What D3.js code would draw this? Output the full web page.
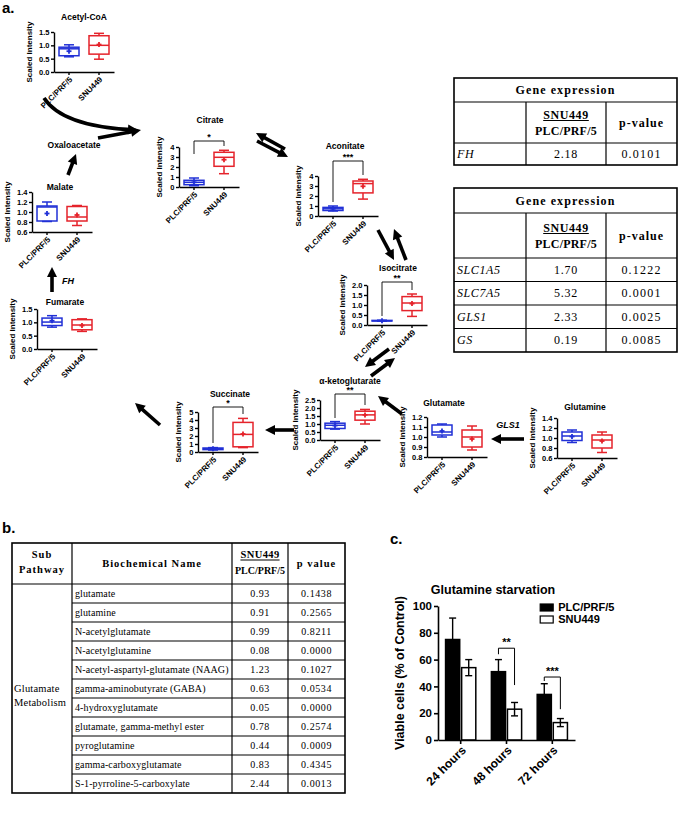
<!DOCTYPE html>
<html><head><meta charset="utf-8">
<script src="https://cdn.jsdelivr.net/npm/d3@7"></script>
<style>
body{margin:0;background:#fff;}
svg{display:block;background:#fff;}
</style></head><body>
<svg id="fig" width="685" height="816"></svg>
<script>
// ---------------- DATA ----------------
const cellLines = ["PLC/PRF/5", "SNU449"];
// box stats per cell line: [min, q1, median, q3, max, mean]
const acetylCoA  = [[0.57,0.61,0.87,0.93,1.02,0.78],[0.48,0.67,1.00,1.36,1.45,1.03]];
const citrate    = [[0.13,0.23,0.47,0.67,0.90,0.47],[1.33,2.07,2.97,3.47,3.67,2.73]];
const aconitate  = [[0.50,0.55,0.72,0.86,1.00,0.72],[1.69,2.31,3.24,3.50,3.67,2.97]];
const isocitrate = [[0.19,0.20,0.21,0.23,0.24,0.21],[0.43,0.72,1.10,1.42,1.55,1.07]];
const malate     = [[0.81,0.82,1.10,1.12,1.20,0.97],[0.73,0.82,0.90,1.11,1.13,0.94]];
const fumarate   = [[0.82,0.88,1.01,1.16,1.25,1.06],[0.66,0.72,0.90,1.10,1.13,0.88]];
const succinate  = [[0.25,0.30,0.40,0.50,0.55,0.40],[0.55,0.65,2.20,3.70,4.20,2.25]];
const alphaKG    = [[0.68,0.72,0.92,1.05,1.15,0.90],[1.00,1.24,1.57,1.80,1.91,1.57]];
const glutamate  = [[1.00,1.02,1.05,1.12,1.13,1.06],[0.87,0.90,1.00,1.07,1.11,0.98]];
const glutamine  = [[0.91,0.95,1.04,1.12,1.16,1.03],[0.71,0.80,0.96,1.06,1.12,0.94]];

const ticks15 = [0, 0.5, 1.0, 1.5];
const ticks4 = [0, 1, 2, 3, 4];
const ticks2 = [0, 0.5, 1.0, 1.5, 2.0];
const ticks25 = [0, 0.5, 1.0, 1.5, 2.0, 2.5];
const ticks0614 = [0.6, 0.8, 1.0, 1.2, 1.4];
const ticks0812 = [0.8, 0.9, 1.0, 1.1, 1.2];
const ticks5 = [0, 1, 2, 3, 4, 5];

// gene expression tables
const fhGenes = ["FH"], fhRatio = ["2.18"], fhP = ["0.0101"];
const tGenes = ["SLC1A5", "SLC7A5", "GLS1", "GS"];
const tRatio = ["1.70", "5.32", "2.33", "0.19"];
const tP = ["0.1222", "0.0001", "0.0025", "0.0085"];

// table b
const bNames = ["glutamate","glutamine","N-acetylglutamate","N-acetylglutamine",
  "N-acetyl-aspartyl-glutamate (NAAG)","gamma-aminobutyrate (GABA)","4-hydroxyglutamate",
  "glutamate, gamma-methyl ester","pyroglutamine","gamma-carboxyglutamate","S-1-pyrroline-5-carboxylate"];
const bRatio = ["0.93","0.91","0.99","0.08","1.23","0.63","0.05","0.78","0.44","0.83","2.44"];
const bP = ["0.1438","0.2565","0.8211","0.0000","0.1027","0.0534","0.0000","0.2574","0.0009","0.4345","0.0013"];

// panel c
const hours = ["24 hours", "48 hours", "72 hours"];
const plcViable = [75, 51, 34];
const plcErr = [16, 9, 8];
const snuViable = [54, 23, 13];
const snuErr = [6, 5, 3];

// ---------------- SETUP ----------------
const SANS = '"Liberation Sans", Arial, Helvetica, sans-serif';
const SERIF = '"Liberation Serif", "Times New Roman", serif';
const BLUE = "#2130d6", RED = "#e5232b";
const svg = d3.select("#fig");

function text(x, y, s, o = {}) {
  const t = svg.append("text").attr("x", x).attr("y", y).text(s)
    .attr("font-family", o.family || SANS)
    .attr("font-size", o.size || 10)
    .attr("font-weight", o.weight || "normal")
    .attr("font-style", o.style || "normal")
    .attr("text-anchor", o.anchor || "start")
    .attr("letter-spacing", o.ls || 0)
    .attr("fill", "#000");
  if (o.rotate) t.attr("transform", `rotate(${o.rotate},${x},${y})`);
  return t;
}
function line(x1, y1, x2, y2, w = 1, c = "#000") {
  return svg.append("line").attr("x1", x1).attr("y1", y1).attr("x2", x2).attr("y2", y2)
    .attr("stroke", c).attr("stroke-width", w);
}
function head(x2, y2, ux, uy, hl, hw) {
  const bx = x2 - ux * hl, by = y2 - uy * hl;
  svg.append("path").attr("d",
    `M${x2},${y2}L${bx - uy * hw / 2},${by + ux * hw / 2}L${bx + uy * hw / 2},${by - ux * hw / 2}Z`)
    .attr("fill", "#000");
}
function arrow(x1, y1, x2, y2, w = 3.6, hl = 10, hw = 10) {
  const dx = x2 - x1, dy = y2 - y1, L = Math.hypot(dx, dy), ux = dx / L, uy = dy / L;
  line(x1, y1, x2 - ux * hl * 0.7, y2 - uy * hl * 0.7, w);
  head(x2, y2, ux, uy, hl, hw);
}

// panel labels
text(2, 13, "a.", {size: 15, weight: "bold"});
text(2, 533, "b.", {size: 15, weight: "bold"});
text(390, 544, "c.", {size: 15, weight: "bold"});

// ---------------- BOX PANELS ----------------
const panels = [
  {name: "Acetyl-CoA", data: acetylCoA, domain: [0, 1.5], ticks: ticks15, fmt: ".1f", x0: 54, top: 32, tx: 84, ty: 17, lab: 22},
  {name: "Citrate", data: citrate, domain: [0, 4], ticks: ticks4, fmt: "d", x0: 179, top: 147, tx: 210, ty: 120, lab: 17,
    sig: {t: "*", y: 141, l: 154, r: 146}},
  {name: "Aconitate", data: aconitate, domain: [0, 4], ticks: ticks4, fmt: "d", x0: 318, top: 176, tx: 345, ty: 146, lab: 17,
    sig: {t: "***", y: 161, l: 202, r: 175}},
  {name: "Isocitrate", data: isocitrate, domain: [0, 2], ticks: ticks2, fmt: ".1f", x0: 367, top: 285, tx: 398, ty: 268, lab: 22,
    sig: {t: "**", y: 282, l: 316, r: 290}},
  {name: "Malate", data: malate, domain: [0.6, 1.4], ticks: ticks0614, fmt: ".1f", x0: 32, top: 192, tx: 60, ty: 187, lab: 22},
  {name: "Fumarate", data: fumarate, domain: [0, 1.5], ticks: ticks15, fmt: ".1f", x0: 37, top: 309, tx: 65, ty: 302, lab: 22},
  {name: "Succinate", data: succinate, domain: [0, 5], ticks: ticks5, fmt: "d", x0: 198, top: 412, tx: 230, ty: 394, lab: 17,
    sig: {t: "*", y: 407, l: 443, r: 414}},
  {name: "\u03b1-ketoglutarate", data: alphaKG, domain: [0, 2.5], ticks: ticks25, fmt: ".1f", x0: 320, top: 400, tx: 350, ty: 381, lab: 22,
    sig: {t: "**", y: 394, l: 418, r: 405}},
  {name: "Glutamate", data: glutamate, domain: [0.8, 1.2], ticks: ticks0812, fmt: ".1f", x0: 427, top: 417, tx: 444, ty: 403, lab: 22},
  {name: "Glutamine", data: glutamine, domain: [0.6, 1.4], ticks: ticks0614, fmt: ".1f", x0: 557, top: 418, tx: 585, ty: 407, lab: 22},
];

const PH = 40, PW = 60;
panels.forEach(p => {
  const g = svg.append("g");
  const y = d3.scaleLinear().domain(p.domain).range([p.top + PH, p.top]);
  const x = d3.scaleBand().domain(cellLines).range([p.x0, p.x0 + PW]);
  const ya = g.append("g").attr("transform", `translate(${p.x0},0)`)
    .call(d3.axisLeft(y).tickValues(p.ticks).tickSize(3).tickSizeOuter(0).tickFormat(d3.format(p.fmt)));
  const xa = g.append("g").attr("transform", `translate(0,${p.top + PH})`)
    .call(d3.axisBottom(x).tickSize(3).tickSizeOuter(0));
  [ya, xa].forEach(a => {
    a.selectAll("path,line").attr("stroke", "#000").attr("stroke-width", 1.4);
    a.selectAll("text").attr("font-family", SANS).attr("font-weight", "bold").attr("font-size", 7.5).attr("fill", "#000");
  });
  ya.selectAll("text").attr("x", -4.5);
  xa.selectAll("text").attr("x", 0).attr("y", 0).attr("dy", "0.35em")
    .attr("text-anchor", "end").attr("font-size", 8)
    .attr("transform", "translate(2,6) rotate(-45)");
  text(p.x0 - p.lab, p.top + PH / 2, "Scaled Intensity", {size: 8, weight: "bold", anchor: "middle", rotate: -90});
  text(p.tx, p.ty + 3, p.name, {size: 8.5, weight: "bold", anchor: "middle"});
  const bw = 20, cw = 10;
  p.data.forEach((s, i) => {
    const c = i === 0 ? BLUE : RED;
    const cx = x(cellLines[i]) + x.bandwidth() / 2;
    const [mn, q1, md, q3, mx, mean] = s;
    const bg = g.append("g").attr("stroke", c).attr("stroke-width", 1.5).attr("fill", "none");
    bg.append("line").attr("x1", cx).attr("x2", cx).attr("y1", y(mx)).attr("y2", y(q3));
    bg.append("line").attr("x1", cx).attr("x2", cx).attr("y1", y(q1)).attr("y2", y(mn));
    bg.append("line").attr("x1", cx - cw / 2).attr("x2", cx + cw / 2).attr("y1", y(mx)).attr("y2", y(mx));
    bg.append("line").attr("x1", cx - cw / 2).attr("x2", cx + cw / 2).attr("y1", y(mn)).attr("y2", y(mn));
    bg.append("rect").attr("x", cx - bw / 2).attr("width", bw).attr("y", y(q3)).attr("height", Math.max(0.5, y(q1) - y(q3)));
    bg.append("line").attr("x1", cx - bw / 2).attr("x2", cx + bw / 2).attr("y1", y(md)).attr("y2", y(md));
    bg.append("line").attr("x1", cx - 2.5).attr("x2", cx + 2.5).attr("y1", y(mean)).attr("y2", y(mean)).attr("stroke-width", 1.8);
    bg.append("line").attr("x1", cx).attr("x2", cx).attr("y1", y(mean) - 2.5).attr("y2", y(mean) + 2.5).attr("stroke-width", 1.8);
  });
  if (p.sig) {
    const xl = x(cellLines[0]) + x.bandwidth() / 2, xr = x(cellLines[1]) + x.bandwidth() / 2;
    svg.append("path").attr("d", `M${xl},${p.sig.l}V${p.sig.y}H${xr}V${p.sig.r}`)
      .attr("fill", "none").attr("stroke", "#000").attr("stroke-width", 0.9);
    text((xl + xr) / 2, p.sig.y - 1.5, p.sig.t, {size: 9, weight: "bold", anchor: "middle"});
  }
});

// ---------------- PATHWAY ARROWS ----------------
const arrows = [
  [285, 149, 256, 133], [257, 141, 288, 157],          // citrate <-> aconitate
  [378, 230, 394, 260], [406, 260, 394, 229],          // aconitate <-> isocitrate
  [389, 349, 365, 367], [371, 376, 395, 358],          // isocitrate <-> a-KG
  [402, 414, 378, 396],                                 // glutamate -> a-KG
  [524, 439, 491, 439],                                 // glutamine -> glutamate
  [294, 430, 265, 430],                                 // a-KG -> succinate
  [160, 425, 135, 403],                                 // succinate -> fumarate
  [52, 292, 52, 267],                                   // fumarate -> malate
  [68, 175, 76, 154],                                   // malate -> oxaloacetate
  [98, 138, 141, 130],                                  // oxaloacetate -> citrate
];
arrows.forEach(a => arrow(...a));
(function () {
  const p0 = [44, 98], c = [62, 126], p2 = [138, 130];
  const tx = p2[0] - c[0], ty = p2[1] - c[1], L = Math.hypot(tx, ty), ux = tx / L, uy = ty / L;
  const e = [p2[0] - ux * 7, p2[1] - uy * 7];
  svg.append("path").attr("d", `M${p0}Q${c} ${e}`).attr("fill", "none").attr("stroke", "#000").attr("stroke-width", 3.6);
  head(p2[0], p2[1], ux, uy, 10, 10);
})();
text(74, 148, "Oxaloacetate", {size: 8.5, weight: "bold", anchor: "middle"});
text(62, 284, "FH", {size: 9, weight: "bold", style: "italic"});
text(508, 428, "GLS1", {size: 9, weight: "bold", style: "italic", anchor: "middle"});

// ---------------- GENE EXPRESSION TABLES ----------------
function underlinedText(x, y, s, o) {
  const t = text(x, y, s, o);
  const w = t.node().getComputedTextLength();
  line(x - w / 2, y + 2, x + w / 2, y + 2, 1.1);
}
function geneTable(cols, rows, genes, ratio, pv) {
  const L = cols[0], R = cols[cols.length - 1], T = rows[0], B = rows[rows.length - 1];
  svg.append("rect").attr("x", L).attr("y", T).attr("width", R - L).attr("height", B - T)
    .attr("fill", "none").attr("stroke", "#000").attr("stroke-width", 1.6);
  rows.slice(1, -1).forEach(r => line(L, r, R, r, 1.2));
  cols.slice(1, -1).forEach(c => line(c, rows[1], c, B, 1.2));
  text((L + R) / 2, (rows[0] + rows[1]) / 2 + 4, "Gene expression",
    {family: SERIF, size: 12, weight: "bold", anchor: "middle", ls: 1.1});
  const mid = (cols[1] + cols[2]) / 2, pm = (cols[2] + cols[3]) / 2, hm = (rows[1] + rows[2]) / 2;
  underlinedText(mid, hm - 4, "SNU449", {family: SERIF, size: 12, weight: "bold", anchor: "middle", ls: 0.6});
  text(mid, hm + 12, "PLC/PRF/5", {family: SERIF, size: 12, weight: "bold", anchor: "middle", ls: 0.2});
  text(pm, hm + 4, "p-value", {family: SERIF, size: 12, weight: "bold", anchor: "middle", ls: 1});
  genes.forEach((gname, i) => {
    const cy = (rows[i + 2] + rows[i + 3]) / 2 + 4;
    text(L + 3, cy, gname, {family: SERIF, size: 12, style: "italic", ls: 0.6});
    text(mid, cy, ratio[i], {family: SERIF, size: 12, anchor: "middle", ls: 0.8});
    text(pm, cy, pv[i], {family: SERIF, size: 12, anchor: "middle", ls: 1.2});
  });
}
geneTable([454, 526, 606, 677], [78, 102, 143, 165], fhGenes, fhRatio, fhP);
geneTable([454, 526, 606, 677], [188, 213, 258, 281.5, 305, 328.5, 352], tGenes, tRatio, tP);

// ---------------- TABLE b ----------------
(function () {
  const cols = [12, 72, 232, 288, 345];
  const T = 543, HB = 584, RH = 19;
  const B = HB + RH * bNames.length;
  svg.append("rect").attr("x", cols[0]).attr("y", T).attr("width", cols[4] - cols[0]).attr("height", B - T)
    .attr("fill", "none").attr("stroke", "#000").attr("stroke-width", 1.6);
  line(cols[0], HB, cols[4], HB, 1.2);
  cols.slice(1, -1).forEach(c => line(c, T, c, B, 1.2));
  bNames.forEach((n, i) => { if (i > 0) line(cols[1], HB + RH * i, cols[4], HB + RH * i, 1.1); });
  const h = {family: SERIF, size: 10.5, weight: "bold", anchor: "middle", ls: 1};
  text((cols[0] + cols[1]) / 2, 558, "Sub", h);
  text((cols[0] + cols[1]) / 2, 573, "Pathway", h);
  text((cols[1] + cols[2]) / 2, 567, "Biochemical Name", h);
  underlinedText((cols[2] + cols[3]) / 2, 558, "SNU449", {family: SERIF, size: 10.5, weight: "bold", anchor: "middle", ls: 0.4});
  text((cols[2] + cols[3]) / 2, 574, "PLC/PRF/5", {family: SERIF, size: 10, weight: "bold", anchor: "middle"});
  text((cols[3] + cols[4]) / 2, 567, "p value", h);
  text(cols[0] + 2, 692, "Glutamate", {family: SERIF, size: 10.5, ls: 0.2});
  text(cols[0] + 2, 706, "Metabolism", {family: SERIF, size: 10.5, ls: 0.2});
  bNames.forEach((n, i) => {
    const cy = HB + RH * (i + 0.5) + 3.5;
    text(cols[1] + 3, cy, n, {family: SERIF, size: 10, ls: 0.1});
    text((cols[2] + cols[3]) / 2, cy, bRatio[i], {family: SERIF, size: 10, anchor: "middle", ls: 0.5});
    text((cols[3] + cols[4]) / 2, cy, bP[i], {family: SERIF, size: 10, anchor: "middle", ls: 0.6});
  });
})();

// ---------------- PANEL c ----------------
(function () {
  const X0 = 438, X1 = 575;
  const y = d3.scaleLinear().domain([0, 100]).range([740, 606]);
  const x = d3.scaleBand().domain(hours).range([X0, X1]).paddingInner(0.34).paddingOuter(0.165);
  const xs = d3.scaleBand().domain(cellLines).range([0, x.bandwidth()]).paddingInner(0.12);
  const series = [{v: plcViable, e: plcErr, fill: "#000"}, {v: snuViable, e: snuErr, fill: "#fff"}];
  series.forEach((s, si) => {
    hours.forEach((hname, i) => {
      const bx = x(hname) + xs(cellLines[si]), bw = xs.bandwidth(), cx = bx + bw / 2;
      const top = y(s.v[i] + s.e[i]), bot = y(s.v[i] - s.e[i]);
      line(cx, top, cx, bot, 1.4);
      line(cx - 3.5, top, cx + 3.5, top, 1.4);
      line(cx - 3.5, bot, cx + 3.5, bot, 1.4);
      svg.append("rect").attr("x", bx).attr("y", y(s.v[i])).attr("width", bw).attr("height", y(0) - y(s.v[i]))
        .attr("fill", s.fill).attr("fill-opacity", si === 1 ? 0 : 1).attr("stroke", "#000").attr("stroke-width", 1.5);
    });
  });
  const ya = svg.append("g").attr("transform", `translate(${X0},0)`)
    .call(d3.axisLeft(y).tickValues([0, 20, 40, 60, 80, 100]).tickSize(4).tickSizeOuter(0));
  const xa = svg.append("g").attr("transform", "translate(0,740)")
    .call(d3.axisBottom(x).tickSize(4).tickSizeOuter(0));
  [ya, xa].forEach(a => {
    a.selectAll("path,line").attr("stroke", "#000").attr("stroke-width", 1.6);
    a.selectAll("text").attr("font-family", SANS).attr("font-weight", "bold").attr("font-size", 11.5).attr("fill", "#000");
  });
  ya.selectAll("text").attr("x", -6);
  xa.selectAll("text").attr("x", 0).attr("y", 0).attr("dy", "0.35em").attr("text-anchor", "end")
    .attr("font-size", 12).attr("transform", "translate(3,8) rotate(-45)");
  text(X0 - 34, 673, "Viable cells (% of Control)", {size: 12.5, weight: "bold", anchor: "middle", rotate: -90});
  text(X0 + 55, 594, "Glutamine starvation", {size: 12.5, weight: "bold", anchor: "middle"});
  const lx = x(hours[2]) + 3;
  svg.append("rect").attr("x", lx).attr("y", 604).attr("width", 13).attr("height", 7).attr("fill", "#000").attr("stroke", "#000").attr("stroke-width", 1.2);
  svg.append("rect").attr("x", lx).attr("y", 616).attr("width", 13).attr("height", 7).attr("fill", "#fff").attr("stroke", "#000").attr("stroke-width", 1.2);
  text(lx + 18, 611, "PLC/PRF/5", {size: 11, weight: "bold"});
  text(lx + 18, 623, "SNU449", {size: 11, weight: "bold"});
  const sigs = [{i: 1, t: "**", top: 68.5, l: 64, r: 41}, {i: 2, t: "***", top: 47, l: 44, r: 23}];
  sigs.forEach(s => {
    const xl = x(hours[s.i]) + xs(cellLines[0]) + xs.bandwidth() / 2;
    const xr = x(hours[s.i]) + xs(cellLines[1]) + xs.bandwidth() / 2;
    svg.append("path").attr("d", `M${xl},${y(s.l)}V${y(s.top)}H${xr}V${y(s.r)}`)
      .attr("fill", "none").attr("stroke", "#000").attr("stroke-width", 1);
    text((xl + xr) / 2, y(s.top) - 2, s.t, {size: 11, weight: "bold", anchor: "middle"});
  });
})();
</script>
</body></html>
